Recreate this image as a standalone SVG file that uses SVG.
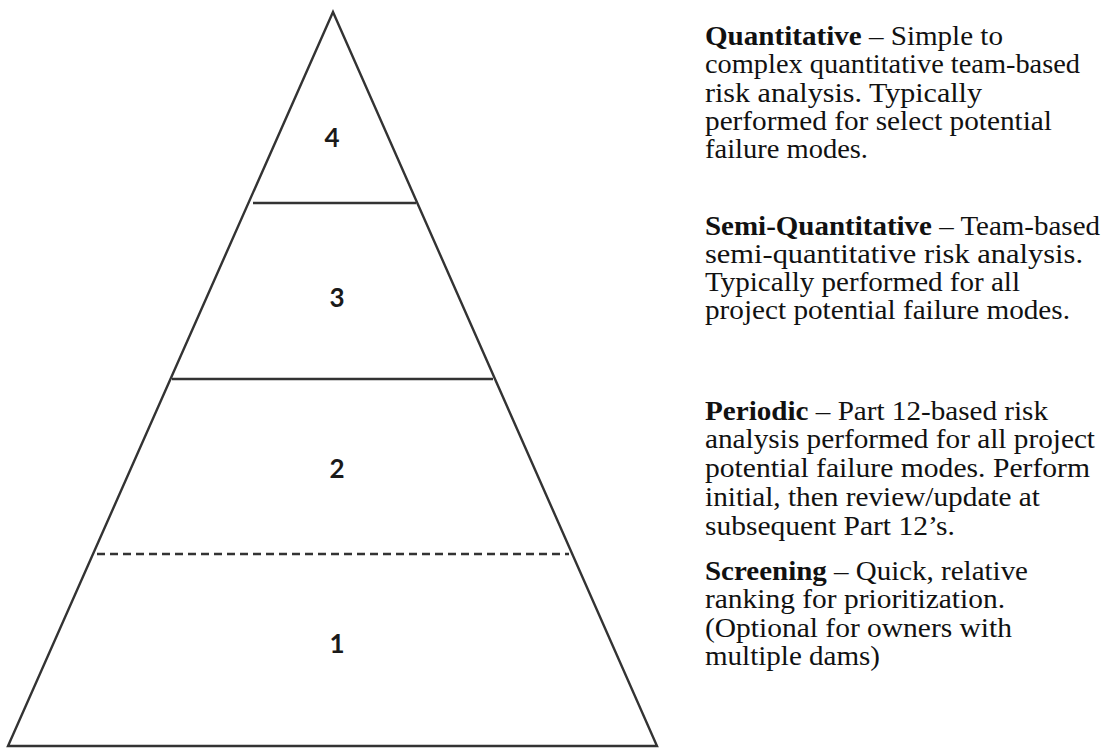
<svg xmlns="http://www.w3.org/2000/svg" width="1110" height="750" viewBox="0 0 1110 750">
<style>
.ln{stroke:#333;stroke-width:2.4;fill:none}
.num{font-family:Lato,"Liberation Sans",sans-serif;font-weight:bold;font-size:26px;fill:#1a1a1a;text-anchor:middle}
.tx{font-family:"Liberation Serif","Times New Roman",serif;font-size:27px;fill:#111}
.b{font-weight:bold}
</style>
<rect width="1110" height="750" fill="#fff"/>
<g id="pyramid">
<polygon class="ln" points="333,12 657,746 8,746"/>
</g>
<g id="connectors">
<line class="ln" x1="253" y1="203" x2="416" y2="203"/>
<line class="ln" x1="172" y1="379" x2="493" y2="379"/>
<line class="ln" x1="97" y1="554" x2="569" y2="554" stroke-dasharray="8 5" stroke-width="2.6"/>
</g>
<g id="level4"><text class="num" x="332" y="147">4</text></g>
<g id="level3"><text class="num" x="337" y="307">3</text></g>
<g id="level2"><text class="num" x="337" y="478">2</text></g>
<g id="level1"><text class="num" x="337" y="653">1</text></g>
<g id="desc-quantitative" class="tx">
<text x="705" y="45" textLength="298" lengthAdjust="spacingAndGlyphs"><tspan class="b">Quantitative</tspan> – Simple to</text>
<text x="705" y="73" textLength="375" lengthAdjust="spacingAndGlyphs">complex quantitative team-based</text>
<text x="705" y="102" textLength="277" lengthAdjust="spacingAndGlyphs">risk analysis.  Typically</text>
<text x="705" y="130" textLength="347" lengthAdjust="spacingAndGlyphs">performed for select potential</text>
<text x="705" y="158" textLength="163" lengthAdjust="spacingAndGlyphs">failure modes.</text>
</g>
<g id="desc-semi" class="tx">
<text x="705" y="235" textLength="395" lengthAdjust="spacingAndGlyphs"><tspan class="b">Semi-Quantitative</tspan> – Team-based</text>
<text x="705" y="263" textLength="378" lengthAdjust="spacingAndGlyphs">semi-quantitative risk analysis.</text>
<text x="705" y="291" textLength="315" lengthAdjust="spacingAndGlyphs">Typically performed for all</text>
<text x="705" y="319" textLength="365" lengthAdjust="spacingAndGlyphs">project potential failure  modes.</text>
</g>
<g id="desc-periodic" class="tx">
<text x="705" y="420" textLength="343" lengthAdjust="spacingAndGlyphs"><tspan class="b">Periodic</tspan> – Part 12-based risk</text>
<text x="705" y="448" textLength="390" lengthAdjust="spacingAndGlyphs">analysis performed for all project</text>
<text x="705" y="477" textLength="385" lengthAdjust="spacingAndGlyphs">potential failure modes.  Perform</text>
<text x="705" y="506" textLength="335" lengthAdjust="spacingAndGlyphs">initial,  then review/update at</text>
<text x="705" y="535" textLength="250" lengthAdjust="spacingAndGlyphs">subsequent Part 12’s.</text>
</g>
<g id="desc-screening" class="tx">
<text x="705" y="580" textLength="323" lengthAdjust="spacingAndGlyphs"><tspan class="b">Screening</tspan> – Quick, relative</text>
<text x="705" y="608" textLength="300" lengthAdjust="spacingAndGlyphs">ranking  for prioritization.</text>
<text x="705" y="637" textLength="307" lengthAdjust="spacingAndGlyphs">(Optional for owners with</text>
<text x="705" y="665" textLength="175" lengthAdjust="spacingAndGlyphs">multiple dams)</text>
</g>
</svg>
